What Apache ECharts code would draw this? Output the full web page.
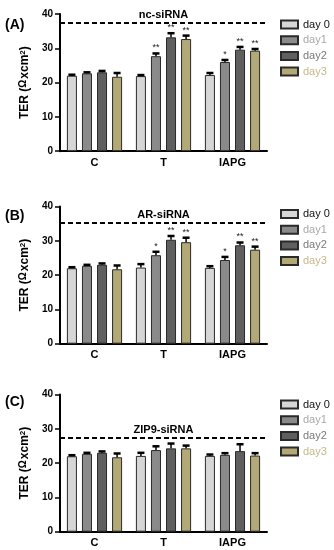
<!DOCTYPE html>
<html>
<head>
<meta charset="utf-8">
<script src="https://cdn.jsdelivr.net/npm/echarts@6/dist/echarts.min.js"></script>
<style>html,body{margin:0;padding:0;background:#fff;}#chart{width:334px;height:550px;}</style>
</head>
<body>
<div id="chart"></div>
<script>
// ---- data ----
const categories = ['C', 'T', 'IAPG'];
const dayNames = ['day 0', 'day1', 'day2', 'day3'];
const panelTitles = ['nc-siRNA', 'AR-siRNA', 'ZIP9-siRNA'];
const panelLabels = ['(A)', '(B)', '(C)'];
const dashedLevels = [37.5, 35.3, 27.5];
const yTicks = [0, 10, 20, 30, 40];

// means [day][category]
const ncMean = [[22.0, 21.9, 22.2], [22.7, 27.7, 26.0], [23.0, 33.2, 29.6], [21.7, 32.7, 29.3]];
const ncErr  = [[0.3, 0.3, 0.6], [0.3, 0.8, 0.6], [0.4, 1.2, 0.8], [1.1, 1.0, 0.5]];
const ncStars = [['', '', ''], ['', '**', '*'], ['', '**', '**'], ['', '**', '**']];

const arMean = [[22.0, 22.2, 22.1], [22.7, 25.8, 24.4], [23.0, 30.3, 28.7], [21.7, 29.6, 27.4]];
const arErr  = [[0.3, 1.0, 0.5], [0.3, 1.0, 0.9], [0.4, 1.1, 0.8], [1.1, 1.3, 0.9]];
const arStars = [['', '', ''], ['', '*', '*'], ['', '**', '**'], ['', '**', '**']];

const zipMean = [[22.0, 22.1, 22.1], [22.7, 23.8, 22.4], [23.0, 24.3, 23.5], [21.7, 24.3, 22.2]];
const zipErr  = [[0.3, 0.9, 0.4], [0.3, 1.1, 0.5], [0.4, 1.4, 2.0], [1.1, 0.8, 0.7]];
const zipStars = [['', '', ''], ['', '', ''], ['', '', ''], ['', '', '']];

const means = [ncMean, arMean, zipMean];
const errs = [ncErr, arErr, zipErr];
const stars = [ncStars, arStars, zipStars];

// ---- style ----
const FONT = 'Liberation Sans, Arial, sans-serif';
const barColors = ['#d6d6d6', '#8a8a8a', '#5f5f5f', '#b3a976'];
const legendTextColors = ['#111111', '#a9a9a9', '#7a7a7a', '#c5b98a'];
const gridTops = [14, 206.5, 394.5];
const gridH = 137.2;
const legendTops = [19, 208.5, 399];
const labelTops = [18, 209, 395];

const chart = echarts.init(document.getElementById('chart'), null, {renderer: 'canvas'});

const grids = gridTops.map(t => ({left: 60, width: 207, top: t, height: gridH}));
const xAxes = grids.map((g, i) => ({
  type: 'category', gridIndex: i, data: categories,
  axisLine: {lineStyle: {color: '#000', width: 2}},
  axisTick: {alignWithLabel: true, length: 4, lineStyle: {color: '#000', width: 1.5}},
  axisLabel: {fontFamily: FONT, fontWeight: 'bold', fontSize: 11, color: '#000', margin: 6}
}));
const yAxes = grids.map((g, i) => ({
  type: 'value', gridIndex: i, min: yTicks[0], max: yTicks[yTicks.length - 1], interval: 10,
  axisLine: {show: true, lineStyle: {color: '#000', width: 2}},
  axisTick: {show: true, length: 5, lineStyle: {color: '#000', width: 1.5}},
  axisLabel: {fontFamily: FONT, fontWeight: 'bold', fontSize: 10, color: '#000', margin: 7},
  splitLine: {show: false},
  name: 'TER ({om|Ω}xcm{sup|2})',
  nameLocation: 'middle', nameGap: 21, nameRotate: 90,
  nameTextStyle: {
    fontFamily: FONT, fontWeight: 'bold', fontSize: 12, color: '#000',
    rich: {
      om: {fontFamily: FONT, fontSize: 10, color: '#000', verticalAlign: 'top', padding: [0, 1, 3, 0]},
      sup: {fontFamily: FONT, fontWeight: 'bold', fontSize: 8, color: '#000', verticalAlign: 'top', padding: [0, 0, 5, 0]}
    }
  }
}));

const series = [];
for (let p = 0; p < 3; p++) {
  for (let d = 0; d < 4; d++) {
    const s = {
      type: 'bar', name: dayNames[d], xAxisIndex: p, yAxisIndex: p,
      data: means[p][d],
      barCategoryGap: '20%', barGap: '50%',
      itemStyle: {color: barColors[d], borderColor: '#2a2a2a', borderWidth: 1},
      silent: true
    };
    if (d === 0) {
      s.markLine = {
        silent: true, symbol: 'none',
        lineStyle: {color: '#000', type: [5, 3], width: 1.8},
        label: {show: true, position: 'insideMiddleTop', formatter: panelTitles[p],
          fontFamily: FONT, fontWeight: 'bold', fontSize: 11, color: '#000', distance: 2},
        data: [{yAxis: dashedLevels[p]}]
      };
    }
    series.push(s);
  }
  for (let d = 0; d < 4; d++) {
    const pp = p, dd = d;
    series.push({
      type: 'custom', name: dayNames[d], xAxisIndex: p, yAxisIndex: p, z: 5, silent: true,
      data: categories.map((c, ci) => [ci, means[p][d][ci], errs[p][d][ci]]),
      renderItem: function (params, api) {
        const ci = api.value(0), v = api.value(1), e = api.value(2);
        const band = api.size([1, 0])[0];
        const w = band * 0.8 / 5.5;
        const off = (dd - 1.5) * 1.5 * w;
        const base = api.coord([ci, v]);
        const top = api.coord([ci, v + e]);
        const x = base[0] + off;
        const children = [
          {type: 'line', shape: {x1: x, y1: base[1], x2: x, y2: top[1]}, style: {stroke: '#000', lineWidth: 1.5}},
          {type: 'line', shape: {x1: x - 3.5, y1: top[1], x2: x + 3.5, y2: top[1]}, style: {stroke: '#000', lineWidth: 2.5}}
        ];
        const st = stars[pp][dd][ci];
        if (st) {
          children.push({type: 'text', style: {text: st, x: x, y: top[1] - 1, textAlign: 'center', textVerticalAlign: 'bottom',
            fontFamily: FONT, fontSize: 9, fill: '#222'}});
        }
        return {type: 'group', children: children};
      }
    });
  }
}

const legends = legendTops.map(t => ({
  left: 280, top: t, orient: 'vertical', itemWidth: 17, itemHeight: 8, itemGap: 4.7, padding: 0,
  selectedMode: false, icon: 'rect',
  textStyle: {fontFamily: FONT, fontSize: 11},
  data: dayNames.map((n, di) => ({name: n, textStyle: {color: legendTextColors[di]}}))
}));

const graphics = panelLabels.map((l, i) => ({
  type: 'text', left: 5, top: labelTops[i],
  style: {text: l, fontFamily: FONT, fontWeight: 'bold', fontSize: 14, fill: '#000'}
}));

chart.setOption({
  animation: false,
  backgroundColor: '#fff',
  grid: grids, xAxis: xAxes, yAxis: yAxes,
  legend: legends, series: series, graphic: graphics
});
</script>
</body>
</html>
